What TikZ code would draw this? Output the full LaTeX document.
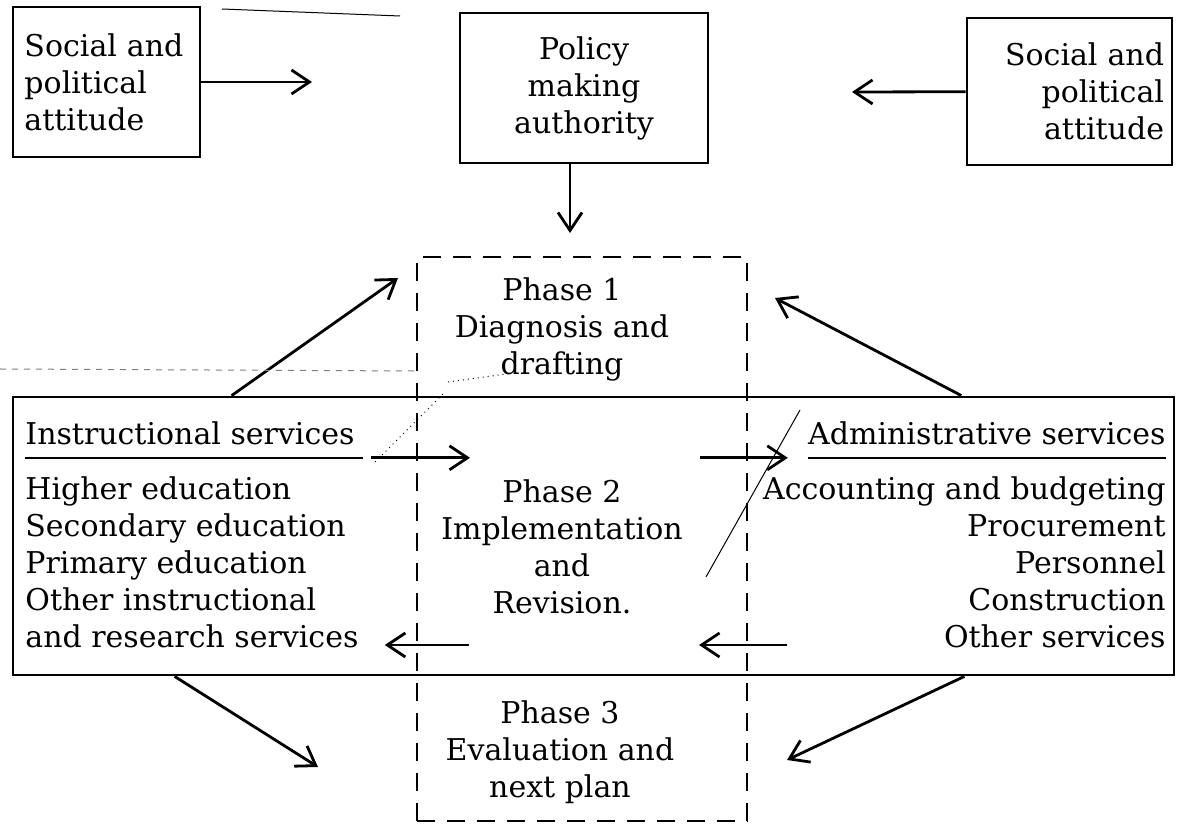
\documentclass[tikz,border=0pt]{standalone}
\usepackage{fontspec}
\setmainfont{DejaVu Serif}
\usetikzlibrary{arrows.meta}
\begin{document}
\begin{tikzpicture}
[
    x=0.5pt, y=-0.5pt,
    font=\fontsize{15}{18.5}\selectfont,
    box/.style={rectangle,draw=black,line width=1.4pt,inner ysep=0pt},
    phasebox/.style={rectangle,draw=black,line width=1.2pt,dash pattern=on 9pt off 6pt},
    title/.style={inner xsep=0pt,inner ysep=6pt},
    item/.style={inner sep=0pt},
    phase/.style={align=center,inner sep=0pt},
    arr/.style={line width=1.4pt,-{Straight Barb[length=9pt,width=12pt,line width=1.4pt]}},
    scanline/.style={line width=0.5pt},
]

\useasboundingbox (0,0) rectangle (1180,839);

\node (socl) at (106.5,82) [box,align=left,text width=82pt,inner xsep=5.75pt,minimum height=75pt] {Social and\\political\\attitude};
\node (policy) at (584,88) [box,align=center,minimum width=124pt,minimum height=75pt] {Policy\\making\\authority};
\node (socr) at (1069.5,91.5) [box,align=right,text width=94.5pt,inner xsep=4pt,minimum height=73.5pt] {Social and\\political\\attitude};

\node (services) at (593.5,536) [box,minimum width=580.5pt,minimum height=139pt] {};
\node (phases) at (582,539) [phasebox,minimum width=165pt,minimum height=282pt] {};

\node (ph1) at (562,277) [phase,anchor=north] {Phase 1\\Diagnosis and\\drafting};
\node (ph2) at (562,479) [phase,anchor=north] {Phase 2\\Implementation\\and\\Revision.};
\node (ph3) at (560,700) [phase,anchor=north] {Phase 3\\Evaluation and\\next plan};

\node (instr) at (25,445) [title,anchor=base west] {Instructional services};
\node (in1) at (25,500) [item,anchor=base west] {Higher education};
\node (in2) at (25,537) [item,anchor=base west] {Secondary education};
\node (in3) at (25,574) [item,anchor=base west] {Primary education};
\node (in4) at (25,611) [item,anchor=base west] {Other instructional};
\node (in5) at (25,648) [item,anchor=base west] {and research services};

\node (admin) at (1166,445) [title,anchor=base east] {Administrative services};
\node (ad1) at (1166,500) [item,anchor=base east] {Accounting and budgeting};
\node (ad2) at (1166,537) [item,anchor=base east] {Procurement};
\node (ad3) at (1166,574) [item,anchor=base east] {Personnel};
\node (ad4) at (1166,611) [item,anchor=base east] {Construction};
\node (ad5) at (1166,648) [item,anchor=base east] {Other services};

\draw[line width=1pt] (instr.south west) -- ([xshift=4pt]instr.south east);
\draw[line width=1pt] (admin.south west) -- (admin.south east);

\coordinate (sl) at (312,82);
\coordinate (pd) at (570,233);
\coordinate (sr) at (852,92);
\coordinate (i1) at (398,278);
\coordinate (a1) at (775,298);
\coordinate (i3) at (318,767);
\coordinate (a3) at (787,760);
\coordinate (i2) at (470,457);
\coordinate (a2) at (700,457);
\coordinate (r1) at (469,645);
\coordinate (r2) at (787,645);
\coordinate (r2e) at (699,645);

\draw[arr] (socl) -- (sl);
\draw[arr] (policy.south -| pd) -- (pd);
\draw[arr] (socr) -- (sr);
\draw[arr] ([xshift=110pt]services.north west) -- (i1);
\draw[arr] ([xshift=-107pt]services.north east) -- (a1);
\draw[arr] ([xshift=81.5pt]services.south west) -- (i3);
\draw[arr] ([xshift=-105.5pt]services.south east) -- (a3);
\draw[arr,shorten <=8pt] (instr.south east) -- (instr.south east -| i2);
\draw[arr,shorten >=10pt] (a2 |- admin.south) -- (admin.south west);
\draw[arr,shorten >=13pt] (r1) -- (r1 -| in5.east);
\draw[arr] (r2) -- (r2e);

\draw[scanline] (222,9) -- (400,16);
\draw[scanline,gray,dashed] (0,369) -- (415,371);
\draw[scanline] (800,410) -- (706,577);
\draw[scanline,dotted] (375,462) -- (444,393);
\draw[scanline,dotted] (448,382) -- (506,374);
\end{tikzpicture}
\end{document}
